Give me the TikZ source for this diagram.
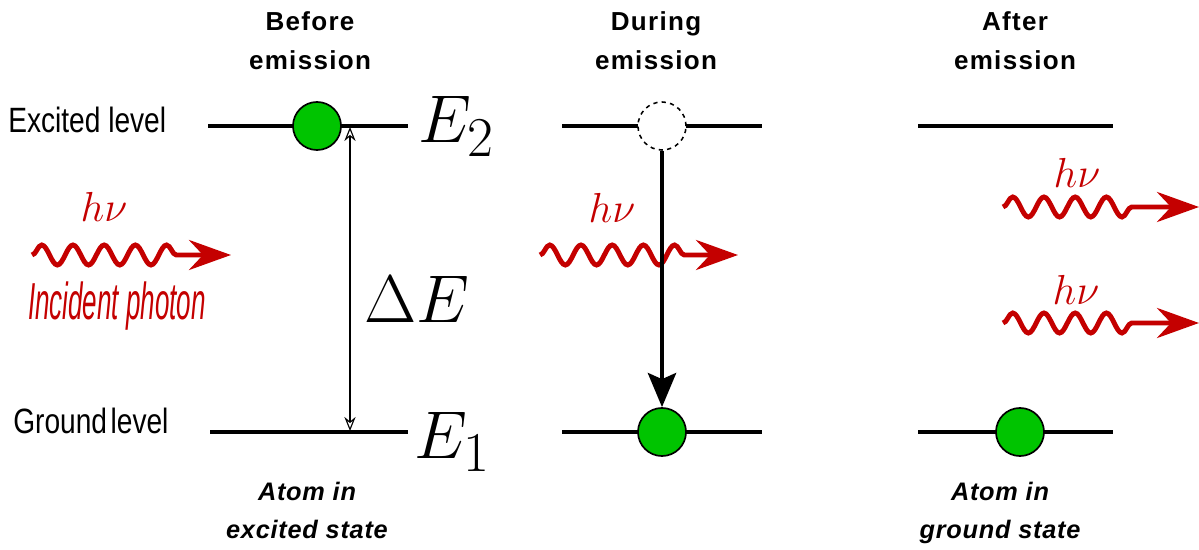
\documentclass[tikz,border=0pt]{standalone}
\usepackage{graphicx}
\usepackage{fontspec}
\usetikzlibrary{
  arrows.meta,
  positioning,
  decorations.pathmorphing
}
\newfontfamily\lvlfont[FakeStretch=0.8]{Liberation Sans}
\newfontfamily\ttlfont[LetterSpace=5]{Liberation Sans}
\newfontfamily\capfont[LetterSpace=3]{Liberation Sans}
\newfontfamily\phfont[FakeStretch=0.5]{Liberation Sans}
\definecolor{emRed}{HTML}{C40000}
\definecolor{emGreen}{HTML}{00C400}
% math is only available up to 24.88pt, so scale it up
\newcommand{\bigmath}[2]{\scalebox{#1}{\fontsize{24.88}{24.88}\selectfont$#2$}}
\tikzset{
  level/.style={line width=3.5pt, black},
  atom/.style={
    circle, draw, line width=1.2pt, fill=emGreen, minimum size=1.2cm, inner sep=0pt
  },
  hole/.style={atom, fill=white, dashed, line width=1.1pt},
  photon/.style={
    emRed, line width=3.5pt, decorate,
    decoration={snake, amplitude=0.25cm, segment length=0.78cm, post length=1.3cm},
    -{Stealth[length=1.05cm, width=0.75cm, inset=0.35cm]}
  },
  drop/.style={line width=3.5pt, -{Stealth[length=0.85cm, width=0.7cm, inset=0.15cm]}},
  gap/.style={
    line width=0.8pt,
    {Stealth[open, length=0.35cm, width=0.28cm]}-{Stealth[open, length=0.35cm, width=0.28cm]}
  },
  hnu/.style={text=emRed, anchor=base, inner sep=0pt},
  elabel/.style={anchor=base west, inner sep=0pt},
  lvltext/.style={font=\lvlfont\fontsize{25}{25}\selectfont, anchor=base west, inner sep=0pt},
  title/.style={font=\ttlfont\bfseries\fontsize{18.5}{28}\selectfont, align=center, anchor=base, inner sep=0pt},
  state/.style={font=\capfont\bfseries\itshape\fontsize{18}{27}\selectfont, align=center, anchor=base, inner sep=0pt},
  tag/.style={text=emRed, font=\phfont\itshape\fontsize{37}{37}\selectfont, anchor=base, inner sep=0pt}
}
\begin{document}
\begin{tikzpicture}[x=0.025cm, y=-0.025cm]
  \useasboundingbox (0,0) rectangle (1199,550);

  % titles
  \node[title] (t1) at (310,70) {Before\\emission};
  \node[title] (t2) at (656,70) {During\\emission};
  \node[title] (t3) at (1015,70) {After\\emission};

  \node[lvltext] (exc) at (8,133) {Excited level};
  \node[lvltext] (gnd) at (13,434) {Ground\hspace{-3pt} level};

  % before emission
  \coordinate (a2w) at (208,126); \coordinate (a2e) at (408,126);
  \coordinate (a1w) at (210,432); \coordinate (a1e) at (408,432);
  \draw[level] (a2w) -- (a2e);
  \draw[level] (a1w) -- (a1e);
  \node[atom] (at1) at (317,126) {};
  \coordinate (gtop) at (350,127); \coordinate (gbot) at (350,431);
  \draw[gap] (gtop) -- (gbot);
  \node[elabel] (E2) at (418,143) {\bigmath{1.93}{E_2}};
  \node[elabel] (E1) at (414,458) {\bigmath{1.93}{E_1}};
  \node[elabel] (dE) at (364,323) {\bigmath{1.93}{\Delta E}};

  \coordinate (p1s) at (32,255); \coordinate (p1e) at (231,255);
  \draw[photon] (p1s) -- (p1e);
  \node[hnu] (h1) at (104,222) {\bigmath{1.2}{h\nu}};
  \node[tag] (inc) at (117,320) {Incident photon};

  % during emission
  \coordinate (b2w) at (562,126); \coordinate (b2e) at (762,126);
  \coordinate (b1w) at (562,432); \coordinate (b1e) at (762,432);
  \draw[level] (b2w) -- (b2e);
  \draw[level] (b1w) -- (b1e);
  \coordinate (p2s) at (540,255); \coordinate (p2e) at (738,255);
  \draw[photon] (p2s) -- (p2e);
  \node[hnu] (h2) at (612,223) {\bigmath{1.2}{h\nu}};
  \node[hole] (vac) at (662,126) {};
  \node[atom] (at2) at (662,432) {};
  \draw[drop] (vac) -- (at2);

  % after emission
  \coordinate (c2w) at (918,126); \coordinate (c2e) at (1113,126);
  \coordinate (c1w) at (918,432); \coordinate (c1e) at (1113,432);
  \draw[level] (c2w) -- (c2e);
  \draw[level] (c1w) -- (c1e);
  \node[atom] (at3) at (1020,432) {};
  \coordinate (p3s) at (1003,207); \coordinate (p3e) at (1199,207);
  \coordinate (p4s) at (1003,323); \coordinate (p4e) at (1199,323);
  \draw[photon] (p3s) -- (p3e);
  \draw[photon] (p4s) -- (p4e);
  \node[hnu] (h3) at (1077,188) {\bigmath{1.2}{h\nu}};
  \node[hnu] (h4) at (1076,305) {\bigmath{1.2}{h\nu}};

  \node[state] (s1) at (307,538) {Atom in\\excited state};
  \node[state] (s3) at (1000,538) {Atom in\\ground state};
\end{tikzpicture}
\end{document}
